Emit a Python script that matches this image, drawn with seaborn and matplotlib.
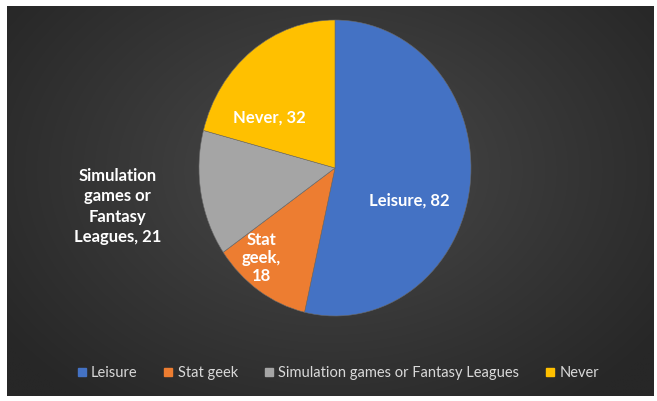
import numpy as np
import matplotlib
matplotlib.use("Agg")
import matplotlib.pyplot as plt
from matplotlib.lines import Line2D
import seaborn as sns

# Survey answers
categories = ["Leisure", "Stat geek", "Simulation games or Fantasy Leagues", "Never"]
counts = [82, 18, 21, 32]
label_lines = ["Leisure, 82", "Stat\ngeek,\n18", "Simulation\ngames or\nFantasy\nLeagues, 21", "Never, 32"]

sns.set_style("white")
plt.rcParams["font.family"] = ["Lato", "DejaVu Sans"]

colors = ["#4472C4", "#ED7D31", "#A5A5A5", "#FFC000"]

W, H = 657, 401
fig = plt.figure(figsize=(W / 100, H / 100), dpi=100)
fig.patch.set_facecolor("white")

# dark chart area with a soft radial gradient
bg = fig.add_axes([7 / W, 5 / H, 647 / W, 390 / H])
ny, nx = 200, 330
yy, xx = np.mgrid[0:ny, 0:nx]
cx, cy = nx * 0.5, ny * 0.42
d = np.sqrt(((xx - cx) / (nx * 0.62)) ** 2 + ((yy - cy) / (ny * 0.75)) ** 2)
d = np.clip(d, 0, 1)
c_in, c_out = 0x4c / 255, 0x27 / 255
v = c_in + (c_out - c_in) * d ** 0.9
img = np.dstack([v, v, v])
bg.imshow(img, aspect="auto", interpolation="bilinear")
bg.set_axis_off()

# pie
ax = fig.add_axes([199 / W, (H - 316) / H, 272 / W, 296 / H])
wedges, _ = ax.pie(counts, colors=colors, startangle=90, counterclock=False,
                   radius=1.0, wedgeprops=dict(linewidth=0.4, edgecolor="#6a6a6a"))
ax.set_aspect("auto")
ax.set_xlim(-1, 1)
ax.set_ylim(-1, 1)
ax.set_axis_off()

label_pos = [(0.55, -0.22), (-0.54, -0.61), (-1.60, -0.26), (-0.48, 0.34)]
label_spacing = [1.2, 1.15, 1.35, 1.2]
for (x, y), txt, ls in zip(label_pos, label_lines, label_spacing):
    ax.text(x, y, txt, ha="center", va="center", color="white",
            fontsize=12, fontweight="bold", linespacing=ls,
            clip_on=False)

handles = [Line2D([0], [0], marker="s", linestyle="none", markersize=6,
                  markerfacecolor=c, markeredgecolor=c) for c in colors]
leg = fig.legend(handles, categories, loc="center", ncol=4,
                 bbox_to_anchor=(338 / W, (H - 373) / H), frameon=False,
                 handlelength=0.6, handletextpad=0.35, columnspacing=1.8,
                 fontsize=10.5)
for t in leg.get_texts():
    t.set_color("#d9d9d9")

fig.savefig("out.png", dpi=100, facecolor=fig.get_facecolor())
